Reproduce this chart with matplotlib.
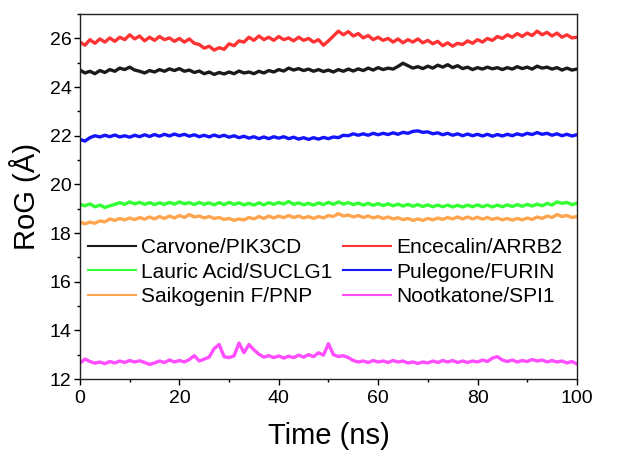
import numpy as np
import matplotlib
matplotlib.use("Agg")
from matplotlib import pyplot as plt
from matplotlib.ticker import MultipleLocator

plt.rcParams['font.family'] = ['Liberation Sans', 'DejaVu Sans']

# simulation time (ns), one frame per ns
time_ns = np.arange(0, 101)

rog_carvone = [
    24.70, 24.58, 24.65, 24.55, 24.68, 24.60, 24.72, 24.65, 24.78, 24.72,
    24.82, 24.70, 24.65, 24.58, 24.68, 24.62, 24.72, 24.65, 24.75, 24.68,
    24.76, 24.65, 24.70, 24.60, 24.66, 24.55, 24.62, 24.52, 24.60, 24.54,
    24.62, 24.55, 24.66, 24.58, 24.62, 24.55, 24.65, 24.58, 24.68, 24.62,
    24.72, 24.66, 24.78, 24.70, 24.76, 24.68, 24.74, 24.65, 24.72, 24.64,
    24.70, 24.62, 24.72, 24.65, 24.74, 24.66, 24.75, 24.68, 24.78, 24.70,
    24.80, 24.72, 24.78, 24.74, 24.85, 24.98, 24.88, 24.78, 24.84, 24.76,
    24.86, 24.78, 24.90, 24.82, 24.92, 24.80, 24.88, 24.76, 24.82, 24.72,
    24.80, 24.74, 24.82, 24.75, 24.80, 24.72, 24.80, 24.74, 24.84, 24.76,
    24.82, 24.74, 24.86, 24.78, 24.82, 24.74, 24.80, 24.70, 24.78, 24.70,
    24.74]

rog_encecalin = [
    25.85, 25.72, 25.95, 25.80, 25.98, 25.85, 26.02, 25.88, 26.05, 25.95,
    26.15, 25.98, 26.10, 25.90, 26.05, 25.92, 26.08, 25.95, 26.02, 25.88,
    26.00, 25.85, 25.98, 25.80, 25.75, 25.60, 25.68, 25.52, 25.62, 25.55,
    25.78, 25.70, 25.90, 25.85, 26.05, 25.92, 26.10, 25.95, 26.05, 25.92,
    26.08, 25.95, 26.02, 25.90, 26.05, 25.92, 26.00, 25.85, 25.95, 25.72,
    25.90, 26.10, 26.30, 26.15, 26.28, 26.10, 26.20, 26.02, 26.12, 25.95,
    26.05, 25.92, 26.00, 25.85, 25.98, 25.82, 25.95, 25.85, 25.98, 25.82,
    25.92, 25.78, 25.88, 25.70, 25.82, 25.68, 25.80, 25.75, 25.90, 25.80,
    25.95, 25.85, 26.00, 25.92, 26.08, 26.00, 26.15, 26.05, 26.20, 26.08,
    26.22, 26.12, 26.30, 26.15, 26.25, 26.10, 26.22, 26.05, 26.15, 26.02,
    26.05]

rog_lauric = [
    19.18, 19.12, 19.20, 19.08, 19.15, 19.05, 19.12, 19.18, 19.25, 19.18,
    19.28, 19.20, 19.26, 19.18, 19.25, 19.17, 19.24, 19.18, 19.26, 19.19,
    19.28, 19.20, 19.25, 19.17, 19.26, 19.18, 19.24, 19.16, 19.25, 19.17,
    19.26, 19.18, 19.24, 19.16, 19.22, 19.15, 19.24, 19.16, 19.25, 19.18,
    19.26, 19.19, 19.30, 19.18, 19.24, 19.16, 19.22, 19.15, 19.24, 19.17,
    19.26, 19.18, 19.28, 19.19, 19.25, 19.17, 19.23, 19.15, 19.22, 19.14,
    19.21, 19.13, 19.20, 19.12, 19.19, 19.11, 19.18, 19.10, 19.17, 19.09,
    19.16, 19.08, 19.15, 19.08, 19.15, 19.07, 19.14, 19.07, 19.15, 19.08,
    19.16, 19.08, 19.15, 19.07, 19.15, 19.08, 19.16, 19.09, 19.17, 19.10,
    19.18, 19.11, 19.19, 19.12, 19.22, 19.15, 19.28, 19.22, 19.26, 19.17,
    19.22]

rog_pulegone = [
    21.85, 21.78, 21.92, 22.00, 21.95, 22.02, 21.96, 22.03, 21.95, 22.00,
    21.94, 22.02, 21.96, 22.04, 21.97, 22.05, 21.98, 22.06, 21.99, 22.07,
    22.00, 22.06, 21.98, 22.04, 21.96, 22.02, 21.95, 22.03, 21.96, 22.02,
    21.94, 22.00, 21.92, 21.98, 21.90, 21.96, 21.88, 21.95, 21.88, 21.96,
    21.90, 21.96, 21.88, 21.94, 21.86, 21.92, 21.85, 21.92, 21.86, 21.93,
    21.88, 21.95, 21.92, 22.02, 22.00, 22.08, 22.02, 22.08, 22.02, 22.10,
    22.04, 22.10, 22.05, 22.12, 22.06, 22.14, 22.10, 22.18, 22.20, 22.14,
    22.16, 22.08, 22.12, 22.04, 22.10, 22.02, 22.08, 22.00, 22.07, 22.00,
    22.06, 21.99, 22.06, 21.98, 22.05, 21.99, 22.06, 22.00, 22.08, 22.02,
    22.10, 22.05, 22.13, 22.06, 22.10, 22.02, 22.08, 22.00, 22.06, 21.99,
    22.04]

rog_saikogenin = [
    18.45, 18.38, 18.45, 18.40, 18.50, 18.46, 18.58, 18.52, 18.60, 18.54,
    18.62, 18.55, 18.64, 18.57, 18.66, 18.58, 18.68, 18.60, 18.70, 18.62,
    18.72, 18.64, 18.76, 18.66, 18.70, 18.62, 18.68, 18.60, 18.64, 18.56,
    18.60, 18.52, 18.58, 18.54, 18.64, 18.58, 18.68, 18.60, 18.70, 18.62,
    18.70, 18.63, 18.72, 18.64, 18.70, 18.62, 18.68, 18.60, 18.68, 18.62,
    18.72, 18.68, 18.80, 18.70, 18.74, 18.66, 18.72, 18.64, 18.70, 18.62,
    18.68, 18.60, 18.66, 18.58, 18.63, 18.55, 18.60, 18.52, 18.58, 18.52,
    18.60, 18.54, 18.62, 18.56, 18.64, 18.58, 18.66, 18.58, 18.66, 18.58,
    18.65, 18.57, 18.64, 18.56, 18.62, 18.54, 18.60, 18.53, 18.60, 18.54,
    18.62, 18.56, 18.66, 18.60, 18.70, 18.64, 18.76, 18.68, 18.72, 18.64,
    18.68]

rog_nootkatone = [
    12.65, 12.82, 12.72, 12.65, 12.70, 12.63, 12.72, 12.66, 12.74, 12.68,
    12.76, 12.70, 12.75, 12.68, 12.60, 12.66, 12.74, 12.68, 12.78, 12.70,
    12.76, 12.70, 12.80, 12.96, 12.74, 12.82, 12.90, 13.25, 13.42, 12.92,
    12.88, 12.95, 13.48, 13.08, 13.42, 13.20, 13.02, 12.90, 12.96, 12.88,
    12.95, 12.86, 12.94, 12.88, 12.98, 12.90, 13.00, 12.92, 13.08, 12.98,
    13.45, 13.00, 12.92, 12.96, 12.88, 12.76, 12.70, 12.74, 12.68, 12.76,
    12.70, 12.74, 12.68, 12.76, 12.70, 12.74, 12.66, 12.70, 12.64, 12.70,
    12.66, 12.74, 12.68, 12.76, 12.70, 12.76, 12.68, 12.74, 12.68, 12.74,
    12.70, 12.78, 12.72, 12.86, 12.92, 12.78, 12.72, 12.78, 12.70, 12.76,
    12.72, 12.80, 12.74, 12.78, 12.70, 12.76, 12.70, 12.74, 12.66, 12.72,
    12.62]

labels = ["Carvone/PIK3CD", "Encecalin/ARRB2", "Lauric Acid/SUCLG1",
          "Pulegone/FURIN", "Saikogenin F/PNP", "Nootkatone/SPI1"]
series = [rog_carvone, rog_encecalin, rog_lauric,
          rog_pulegone, rog_saikogenin, rog_nootkatone]
colors = ["#1a1a1a", "#ff3333", "#33ff33", "#1414ff", "#ffa550", "#ff4dff"]

fig = plt.figure(figsize=(6.25, 4.55), dpi=100)
ax = fig.add_axes([0.128, 0.167, 0.795, 0.802])

lines = []
for y, c, lab in zip(series, colors, labels):
    ln, = ax.plot(time_ns, y, color=c, lw=2.4, label=lab)
    lines.append(ln)

ax.set_xlim(0, 100)
ax.set_ylim(12, 27)
ax.xaxis.set_major_locator(MultipleLocator(20))
ax.xaxis.set_minor_locator(MultipleLocator(10))
ax.yaxis.set_major_locator(MultipleLocator(2))
ax.yaxis.set_minor_locator(MultipleLocator(1))
ax.tick_params(which='major', direction='out', length=4, width=1, labelsize=14)
ax.tick_params(axis='x', which='major', pad=4)
ax.tick_params(axis='y', which='major', pad=2)
ax.tick_params(which='minor', direction='out', length=2.5, width=1)
for sp in ax.spines.values():
    sp.set_linewidth(1)
    sp.set_color('#222222')

ax.set_xlabel("Time (ns)", fontsize=21, labelpad=11)
ax.set_ylabel("RoG (Å)", fontsize=21, labelpad=6)

# legend reads row-wise in two columns
order = [0, 2, 4, 1, 3, 5]
leg = ax.legend([lines[i] for i in order], [labels[i] for i in order],
                ncol=2, frameon=False, fontsize=15, loc='center left',
                bbox_to_anchor=(0.016, 0.293), handlelength=2.3,
                handletextpad=0.25, columnspacing=0.5, labelspacing=0.27,
                borderaxespad=0, borderpad=0)
for h in leg.get_lines():
    h.set_linewidth(1.5)

fig.savefig("out.png", dpi=100)
